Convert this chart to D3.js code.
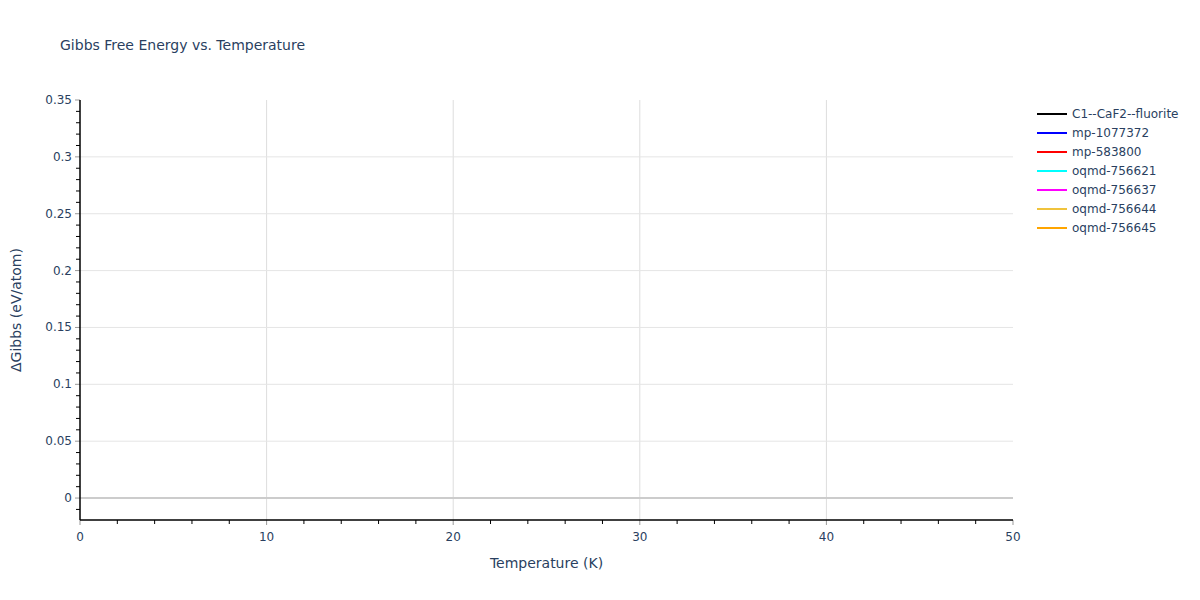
<!DOCTYPE html>
<html>
<head>
<meta charset="utf-8">
<script src="https://cdn.jsdelivr.net/npm/d3@7"></script>
<style>
  body { margin: 0; background: #fff; }
  svg { font-family: "DejaVu Sans", Verdana, sans-serif; }
</style>
</head>
<body>
<div id="chart"></div>
<script>
// series names and colours as shown in the legend
const seriesNames = ["C1--CaF2--fluorite", "mp-1077372", "mp-583800", "oqmd-756621", "oqmd-756637", "oqmd-756644", "oqmd-756645"];
const seriesColors = ["#000000", "#0000ff", "#ff0000", "#00ffff", "#ff00ff", "#f0c33c", "#ffa500"];
// no curves are visible inside the plotted range
const temperatures = [];
const seriesValues = [[], [], [], [], [], [], []];

const xTicks = [0, 10, 20, 30, 40, 50];
const yTicks = [0, 0.05, 0.1, 0.15, 0.2, 0.25, 0.3, 0.35];

const width = 1200, height = 600;
const margin = {top: 100, right: 187, bottom: 80, left: 80};
const plotW = width - margin.left - margin.right,
      plotH = height - margin.top - margin.bottom;

const svg = d3.select("#chart")
  .append("svg")
  .attr("width", width)
  .attr("height", height);

const x = d3.scaleLinear().domain([0, 50]).range([margin.left, margin.left + plotW]);
const y = d3.scaleLinear().domain([-0.0193, 0.35]).range([margin.top + plotH, margin.top]);

const fontColor = "#2a3f5f";

// grid lines
svg.append("g")
  .selectAll("line")
  .data(xTicks.filter(d => d > 0 && d < 50))
  .join("line")
  .attr("x1", d => x(d)).attr("x2", d => x(d))
  .attr("y1", margin.top).attr("y2", margin.top + plotH)
  .attr("stroke", "#dddddd").attr("stroke-width", 1);

svg.append("g")
  .selectAll("line")
  .data(yTicks.filter(d => d > 0 && d < 0.35))
  .join("line")
  .attr("x1", margin.left).attr("x2", margin.left + plotW)
  .attr("y1", d => y(d)).attr("y2", d => y(d))
  .attr("stroke", "#e5e5e5").attr("stroke-width", 1);

// zero line
svg.append("line")
  .attr("x1", margin.left).attr("x2", margin.left + plotW)
  .attr("y1", y(0)).attr("y2", y(0))
  .attr("stroke", "#cccccc").attr("stroke-width", 2);

// traces
const line = d3.line().x((d, i) => x(temperatures[i])).y(d => y(d));
svg.append("g")
  .selectAll("path")
  .data(seriesValues)
  .join("path")
  .attr("d", d => d.length ? line(d) : null)
  .attr("fill", "none")
  .attr("stroke", (d, i) => seriesColors[i])
  .attr("stroke-width", 2);

// x axis
const xMinor = d3.range(0, 51, 2).filter(d => d % 10 !== 0);
svg.append("g")
  .selectAll("line")
  .data(xMinor)
  .join("line")
  .attr("x1", d => x(d)).attr("x2", d => x(d))
  .attr("y1", margin.top + plotH).attr("y2", margin.top + plotH + 4)
  .attr("stroke", "#000");
svg.append("g")
  .selectAll("line")
  .data(xTicks)
  .join("line")
  .attr("x1", d => x(d)).attr("x2", d => x(d))
  .attr("y1", margin.top + plotH).attr("y2", margin.top + plotH + 5)
  .attr("stroke", "#999");
svg.append("line")
  .attr("x1", margin.left).attr("x2", margin.left + plotW)
  .attr("y1", margin.top + plotH).attr("y2", margin.top + plotH)
  .attr("stroke", "#000").attr("stroke-width", 1.5);
svg.append("g")
  .selectAll("text")
  .data(xTicks)
  .join("text")
  .attr("x", d => x(d))
  .attr("y", margin.top + plotH + 21)
  .attr("text-anchor", "middle")
  .attr("fill", fontColor)
  .style("font-size", "12px")
  .text(d => d);

// y axis
const yMinor = d3.range(-1, 35).map(d => d / 100).filter((d, i) => (i - 1) % 5 !== 0);
svg.append("g")
  .selectAll("line")
  .data(yMinor)
  .join("line")
  .attr("x1", margin.left - 4).attr("x2", margin.left)
  .attr("y1", d => y(d)).attr("y2", d => y(d))
  .attr("stroke", "#000");
svg.append("g")
  .selectAll("line")
  .data(yTicks)
  .join("line")
  .attr("x1", margin.left - 5).attr("x2", margin.left)
  .attr("y1", d => y(d)).attr("y2", d => y(d))
  .attr("stroke", "#999");
svg.append("line")
  .attr("x1", margin.left).attr("x2", margin.left)
  .attr("y1", margin.top).attr("y2", margin.top + plotH)
  .attr("stroke", "#000").attr("stroke-width", 1.5);
svg.append("g")
  .selectAll("text")
  .data(yTicks)
  .join("text")
  .attr("x", margin.left - 8)
  .attr("y", d => y(d) + 4)
  .attr("text-anchor", "end")
  .attr("fill", fontColor)
  .style("font-size", "12px")
  .text(d => d);

// titles
svg.append("text")
  .attr("x", 60).attr("y", 50)
  .attr("fill", fontColor)
  .style("font-size", "14px")
  .text("Gibbs Free Energy vs. Temperature");

svg.append("text")
  .attr("x", margin.left + plotW / 2)
  .attr("y", 568)
  .attr("text-anchor", "middle")
  .attr("fill", fontColor)
  .style("font-size", "14px")
  .text("Temperature (K)");

svg.append("text")
  .attr("transform", `translate(21,${margin.top + plotH / 2}) rotate(-90)`)
  .attr("text-anchor", "middle")
  .attr("fill", fontColor)
  .style("font-size", "14px")
  .text("ΔGibbs (eV/atom)");

// legend
const legend = svg.append("g").attr("transform", "translate(1037,114)");
const rows = legend.selectAll("g")
  .data(seriesNames)
  .join("g")
  .attr("transform", (d, i) => `translate(0,${i * 19})`);
rows.append("line")
  .attr("x1", 0).attr("x2", 30)
  .attr("stroke", (d, i) => seriesColors[i])
  .attr("stroke-width", 2);
rows.append("text")
  .attr("x", 35).attr("y", 4)
  .attr("fill", fontColor)
  .style("font-size", "12px")
  .text(d => d);
</script>
</body>
</html>
